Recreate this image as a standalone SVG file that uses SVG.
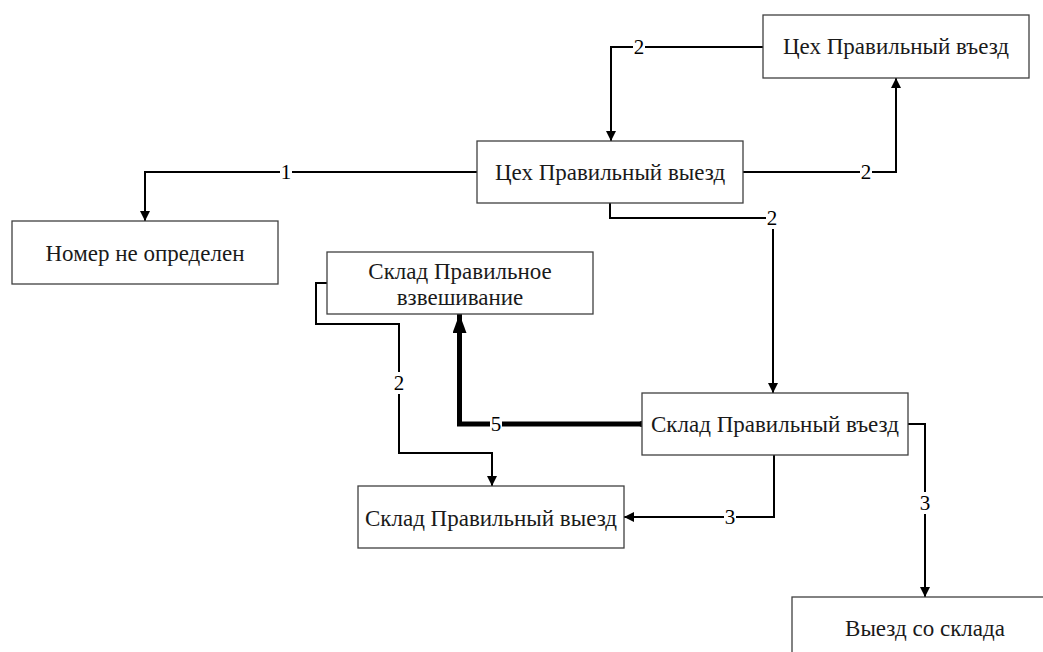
<svg xmlns="http://www.w3.org/2000/svg" width="1043" height="652" viewBox="0 0 1043 652">
<style>
.box{fill:#fff;stroke:#404040;stroke-width:1.3}
.t{font-family:"Liberation Serif","Times New Roman",serif;font-size:23px;fill:#1a1a1a;text-anchor:middle;dominant-baseline:central}
.c{fill:none;stroke:#000;stroke-width:2}
.thick{fill:none;stroke:#000;stroke-width:5}
.lbl{font-family:"Liberation Serif","Times New Roman",serif;font-size:21px;fill:#000;text-anchor:middle;dominant-baseline:central}
.bg{fill:#fff}
</style>
<defs>
<marker id="a" viewBox="0 0 10 10" refX="10" refY="5" markerWidth="10" markerHeight="10" markerUnits="userSpaceOnUse" orient="auto">
<path d="M0,0 L10,5 L0,10 Z" fill="#000"/>
</marker>
<marker id="ab" viewBox="0 0 10 10" refX="10" refY="5" markerWidth="19" markerHeight="14" markerUnits="userSpaceOnUse" orient="auto" preserveAspectRatio="none">
<path d="M0,0 L10,5 L0,10 Z" fill="#000"/>
</marker>
</defs>
<g id="connectors">
<path class="c" d="M763,47 H611 V141" marker-end="url(#a)"/>
<path class="c" d="M743,172 H896 V78" marker-end="url(#a)"/>
<path class="c" d="M477,172 H145 V221" marker-end="url(#a)"/>
<path class="c" d="M610,203 V218 H773 V393" marker-end="url(#a)"/>
<path class="thick" d="M642,424 H459.5 V314" marker-end="url(#ab)"/>
<circle cx="642" cy="424" r="3" fill="#000"/>
<path class="c" d="M327,283 H316 V324 H399 V453 H492 V486" marker-end="url(#a)"/>
<path class="c" d="M774,455 V517 H624" marker-end="url(#a)"/>
<path class="c" d="M908,424 H925 V597" marker-end="url(#a)"/>
<rect class="bg" x="633" y="36" width="12" height="22"/><text class="lbl" x="639" y="47">2</text>
<rect class="bg" x="860" y="161" width="12" height="22"/><text class="lbl" x="866" y="172">2</text>
<rect class="bg" x="280" y="161" width="12" height="22"/><text class="lbl" x="286" y="172">1</text>
<rect class="bg" x="766" y="207" width="12" height="22"/><text class="lbl" x="772" y="218">2</text>
<rect class="bg" x="490" y="413" width="12" height="22"/><text class="lbl" x="496" y="424">5</text>
<rect class="bg" x="393" y="372" width="12" height="22"/><text class="lbl" x="399" y="383">2</text>
<rect class="bg" x="724" y="506" width="12" height="22"/><text class="lbl" x="730" y="517">3</text>
<rect class="bg" x="919" y="492" width="12" height="22"/><text class="lbl" x="925" y="503">3</text>
</g>
<g id="n_ceh_vezd"><rect class="box" x="763" y="15" width="266" height="63"/><text class="t" x="896" y="46">Цех Правильный въезд</text></g>
<g id="n_ceh_vyezd"><rect class="box" x="477" y="141" width="266" height="62"/><text class="t" x="610" y="172">Цех Правильный выезд</text></g>
<g id="n_nomer"><rect class="box" x="12" y="221" width="266" height="63"/><text class="t" x="145" y="253">Номер не определен</text></g>
<g id="n_vzvesh"><rect class="box" x="327" y="252" width="266" height="62"/><text class="t" x="460" y="271">Склад Правильное</text><text class="t" x="460" y="297">взвешивание</text></g>
<g id="n_sklad_vezd"><rect class="box" x="642" y="393" width="266" height="62"/><text class="t" x="775" y="424">Склад Правильный въезд</text></g>
<g id="n_sklad_vyezd"><rect class="box" x="358" y="486" width="266" height="62"/><text class="t" x="491" y="518">Склад Правильный выезд</text></g>
<g id="n_vyezd_sklad"><rect class="box" x="792" y="597" width="266" height="62"/><text class="t" x="925" y="628">Выезд со склада</text></g>
</svg>
